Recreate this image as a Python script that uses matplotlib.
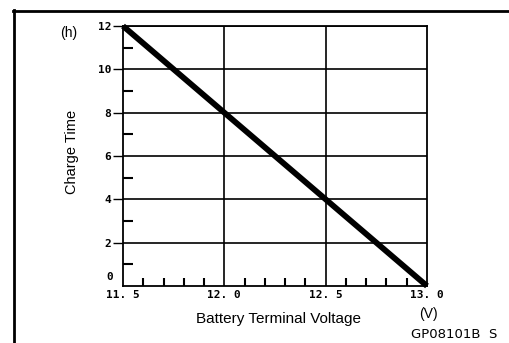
import matplotlib
matplotlib.use("Agg")
import matplotlib.pyplot as plt
from matplotlib.lines import Line2D
import numpy as np

# Charge time vs. battery terminal voltage
voltage = [11.5, 13.0]
charge_hours = [12, 0]

x_major = [11.5, 12.0, 12.5, 13.0]
x_major_labels = ["11. 5", "12. 0", "12. 5", "13. 0"]
y_major = [2, 4, 6, 8, 10, 12]
y_major_labels = ["2", "4", "6", "8", "10", "12"]

W, H = 509, 343
fig = plt.figure(figsize=(W / 100, H / 100), dpi=100)
fig.patch.set_facecolor("white")

ax = fig.add_axes([123 / W, 1 - 286 / H, (427 - 123) / W, (286 - 26) / H])
ax.set_xlim(11.5, 13.0)
ax.set_ylim(0, 12)

ax.plot(voltage, charge_hours, color="black", lw=4.2, solid_capstyle="butt", zorder=5, clip_on=False)

# grid
for xv in x_major[1:-1]:
    ax.axvline(xv, color="black", lw=1.2, zorder=2)
for yv in y_major:
    ax.axhline(yv, color="black", lw=1.2, zorder=2)

for s in ax.spines.values():
    s.set_color("black")
    s.set_linewidth(1.3)

mono = "DejaVu Sans Mono"

ax.set_xticks(x_major)
ax.set_xticklabels(x_major_labels, fontfamily=mono, fontweight="bold", fontsize=8)
ax.set_xticks(np.arange(11.6, 13.0, 0.1)[[0, 1, 2, 3, 5, 6, 7, 8, 10, 11, 12, 13]], minor=True)
ax.tick_params(axis="x", which="major", length=0, pad=3)
ax.tick_params(axis="x", which="minor", direction="in", length=6, width=1.5, color="black")

ax.set_yticks(y_major)
ax.set_yticklabels(y_major_labels, fontfamily=mono, fontweight="bold", fontsize=8)
ax.set_yticks([1, 3, 5, 7, 9, 11], minor=True)
ax.tick_params(axis="y", which="major", direction="out", length=7.5, width=1.0, pad=1)
ax.tick_params(axis="y", which="minor", direction="in", length=7, width=1.5, color="black")

ax.annotate("0", xy=(0, 0), xycoords=("axes fraction", "data"), xytext=(-7.2, 6.5),
            textcoords="offset points", ha="right", va="center",
            fontfamily=mono, fontweight="bold", fontsize=8)

# surrounding frame (top and left rules)
fig.add_artist(Line2D([13 / W, 1.0], [1 - 10.5 / H] * 2, transform=fig.transFigure, color="black", lw=2))
fig.add_artist(Line2D([13.5 / W] * 2, [1 - 10 / H, 0.0], transform=fig.transFigure, color="black", lw=2))

sans = "Liberation Sans"
fig.text(69 / W, 1 - 32.5 / H, "(h)", ha="center", va="center", fontfamily=sans, fontsize=10)
fig.text(72 / W, 1 - 152 / H, "Charge Time", ha="center", va="center", rotation=90, fontfamily=sans, fontsize=10.5)
fig.text(278 / W, 1 - 319 / H, "Battery Terminal Voltage", ha="center", va="center", fontfamily=sans, fontsize=11)
fig.text(428 / W, 1 - 314 / H, "(V)", ha="center", va="center", fontfamily=sans, fontsize=10)
fig.text(454 / W, 1 - 335 / H, "GP08101B  S", ha="center", va="center", fontfamily="Liberation Sans Narrow", fontsize=9.5)

fig.savefig("out.png", dpi=100, facecolor="white")
